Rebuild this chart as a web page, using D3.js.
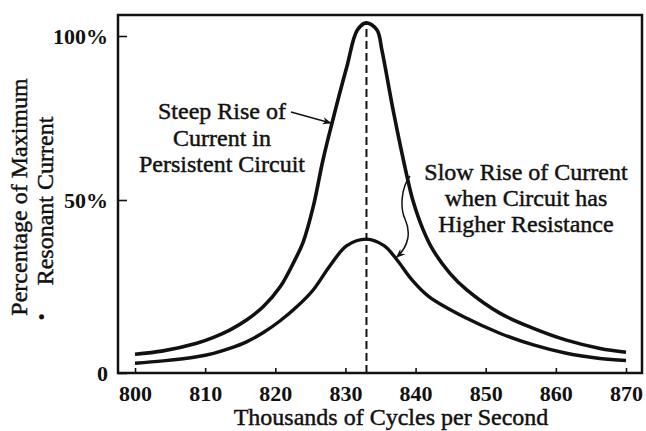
<!DOCTYPE html>
<html>
<head>
<meta charset="utf-8">
<script src="https://cdn.jsdelivr.net/npm/d3@7"></script>
<style>
  body { margin: 0; background: #fff; }
  svg { display: block; }
  text { font-family: "Liberation Serif", "DejaVu Serif", serif; fill: #111; }
  .heavy { stroke: #111; stroke-width: 0.45px; }
</style>
</head>
<body>
<div id="chart"></div>
<script>
// values (frequency in thousands of cycles, current in % of max)
const steepFreq = [800, 804, 808.8, 811.2, 813.5, 815.9, 818.3, 820.7, 822.8, 824, 825.4, 826.8,
                   828.2, 830.2, 831.7, 833, 834.5, 835.2, 836.8, 838.8, 839.6, 841.1, 842.5,
                   844.9, 847.3, 852, 856.8, 861.5, 866.3, 870];
const steepPct  = [5.4, 6.4, 8.6, 10.3, 12.4, 15.3, 19.2, 24.9, 32.7, 38.0, 48.0, 62.2,
                   74.4, 90.6, 101.8, 104.0, 101.8, 95.7, 77.4, 57.0, 50.0, 41.3, 35.5,
                   28.8, 24.0, 17.3, 12.9, 9.5, 7.1, 6.0];
const slowFreq  = [800, 804, 808.8, 811.2, 813.5, 815.9, 818.3, 820.7, 823.1, 825.4, 827.8,
                   830.2, 833, 835.5, 837.2, 839.5, 841.9, 847.3, 852, 856.8, 861.5, 866.3, 870];
const slowPct   = [2.8, 3.5, 4.7, 5.7, 7.1, 9.0, 11.7, 15.1, 19.2, 24.0, 31.0,
                   36.8, 38.7, 36.8, 33.1, 26.9, 22.1, 15.8, 11.5, 8.1, 5.7, 4.2, 3.6];
const resonance = 833;
const xTicks = [800, 810, 820, 830, 840, 850, 860, 870];
const yTicks = [0, 50, 100];
const yTickLabels = ["0", "50%", "100%"];

const width = 646, height = 431;
const frame = { left: 118, top: 15, right: 642, bottom: 373 };

const svg = d3.select("#chart")
    .append("svg")
    .attr("width", width)
    .attr("height", height);

const x = d3.scaleLinear().domain([800, 870]).range([135, 626]);
// the old drawing is not quite even, so a piecewise scale
const y = d3.scaleLinear().domain([0, 50, 100]).range([373, 200, 36]);

// box round the plot
svg.append("rect")
    .attr("x", frame.left)
    .attr("y", frame.top)
    .attr("width", frame.right - frame.left)
    .attr("height", frame.bottom - frame.top)
    .attr("fill", "none")
    .attr("stroke", "#111")
    .attr("stroke-width", 2.5);

// x axis, ticks pointing in
const xAxis = svg.append("g")
    .attr("transform", `translate(0,${frame.bottom})`)
    .call(d3.axisBottom(x).tickValues(xTicks).tickSizeInner(-5).tickSizeOuter(0).tickPadding(12));
xAxis.select(".domain").remove();
xAxis.selectAll("line").attr("stroke", "#111").attr("stroke-width", 1.6);
xAxis.selectAll("text")
    .attr("font-family", "Liberation Serif")
    .attr("font-weight", "bold")
    .attr("font-size", 22)
    .attr("fill", "#111");

// y axis
const yAxis = svg.append("g")
    .attr("transform", `translate(${frame.left},0)`)
    .call(d3.axisLeft(y).tickValues(yTicks).tickFormat((d, i) => yTickLabels[i])
        .tickSizeInner(-9).tickSizeOuter(0).tickPadding(10));
yAxis.select(".domain").remove();
yAxis.selectAll("line").attr("stroke", "#111").attr("stroke-width", 1.6);
yAxis.selectAll("text")
    .attr("font-family", "Liberation Serif")
    .attr("font-weight", "bold")
    .attr("font-size", 22)
    .attr("fill", "#111");

// dashed line at resonance
svg.append("line")
    .attr("x1", x(resonance)).attr("x2", x(resonance))
    .attr("y1", y(0)).attr("y2", y(d3.max(steepPct)))
    .attr("stroke", "#111")
    .attr("stroke-width", 2)
    .attr("stroke-dasharray", "8,4");

const line = d3.line()
    .x(d => x(d[0]))
    .y(d => y(d[1]))
    .curve(d3.curveCatmullRom.alpha(0.5));

svg.append("path")
    .datum(d3.zip(steepFreq, steepPct))
    .attr("d", line)
    .attr("fill", "none")
    .attr("stroke", "#111")
    .attr("stroke-width", 3.6)
    .attr("stroke-linejoin", "round");

svg.append("path")
    .datum(d3.zip(slowFreq, slowPct))
    .attr("d", line)
    .attr("fill", "none")
    .attr("stroke", "#111")
    .attr("stroke-width", 3.4);

// arrow heads
svg.append("defs").append("marker")
    .attr("id", "head")
    .attr("viewBox", "0 0 10 10")
    .attr("refX", 9).attr("refY", 5)
    .attr("markerWidth", 9).attr("markerHeight", 9)
    .attr("markerUnits", "userSpaceOnUse")
    .attr("orient", "auto")
  .append("path")
    .attr("d", "M0,1 L10,5 L0,9 L3,5 Z")
    .attr("fill", "#111");

// annotation: steep curve
const steepText = svg.append("text")
    .attr("class", "heavy")
    .attr("text-anchor", "middle")
    .attr("font-size", 24);
["Steep Rise of", "Current in", "Persistent Circuit"].forEach((t, i) => {
    steepText.append("tspan").attr("x", 222).attr("y", 119 + i * 26.5).text(t);
});
svg.append("line")
    .attr("x1", 291).attr("y1", 112)
    .attr("x2", x(827.9)).attr("y2", y(73.5))
    .attr("stroke", "#111")
    .attr("stroke-width", 1.5)
    .attr("marker-end", "url(#head)");

// annotation: slow curve
const slowText = svg.append("text")
    .attr("class", "heavy")
    .attr("text-anchor", "middle")
    .attr("font-size", 24);
["Slow Rise of Current", "when Circuit has", "Higher Resistance"].forEach((t, i) => {
    slowText.append("tspan").attr("x", 526).attr("y", 180 + i * 26).text(t);
});
svg.append("path")
    .attr("d", `M410,176 C401,188 400,208 405,219 C411,232 409,246 ${x(837.3)},${y(33.5)}`)
    .attr("fill", "none")
    .attr("stroke", "#111")
    .attr("stroke-width", 1.5)
    .attr("marker-end", "url(#head)");

// axis titles
svg.append("text")
    .attr("class", "heavy")
    .attr("x", 391).attr("y", 425)
    .attr("text-anchor", "middle")
    .attr("font-size", 24)
    .text("Thousands of Cycles per Second");

const yTitle = svg.append("text")
    .attr("class", "heavy")
    .attr("transform", "translate(0,197) rotate(-90)")
    .attr("text-anchor", "middle")
    .attr("font-size", 24);
yTitle.append("tspan").attr("x", 0).attr("y", 27).text("Percentage of Maximum");
yTitle.append("tspan").attr("x", -4).attr("y", 53).text("Resonant Current");
svg.append("text")
    .attr("transform", "translate(49,317) rotate(-90)")
    .attr("text-anchor", "middle")
    .attr("font-size", 22)
    .text("•");
</script>
</body>
</html>
